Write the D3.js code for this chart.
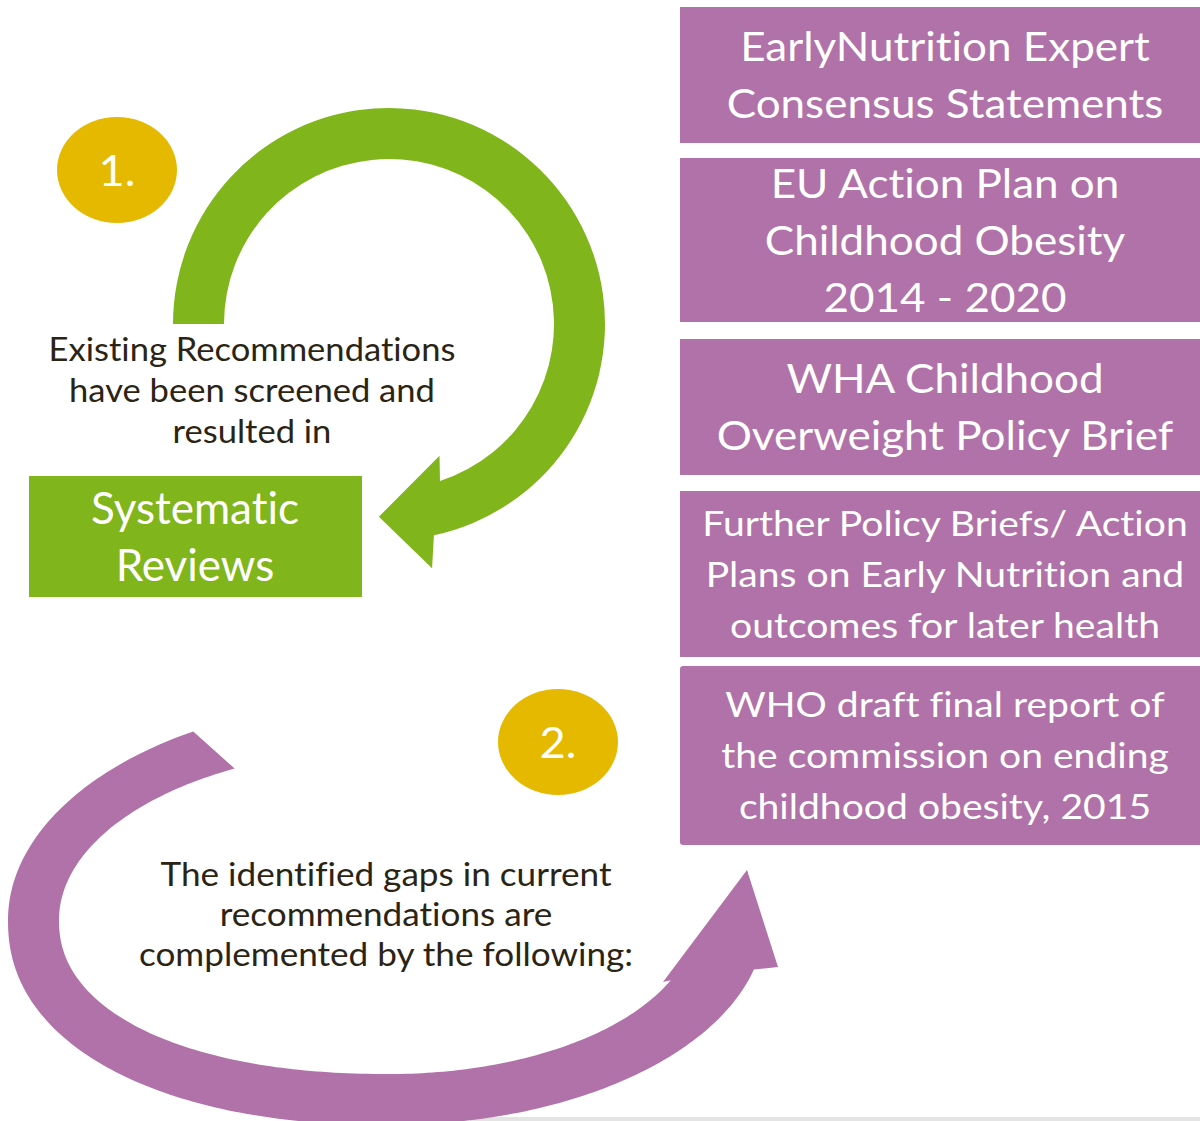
<!DOCTYPE html>
<html>
<head>
<meta charset="utf-8">
<script src="https://cdn.jsdelivr.net/npm/d3@7"></script>
<style>
  body { margin: 0; background: #fff; }
  svg { display: block; font-family: Lato, "Open Sans", sans-serif; font-variant-ligatures: none; }
</style>
</head>
<body>
<svg id="diagram" width="1200" height="1121"></svg>
<script>
const svg = d3.select("#diagram");

/*
/   Content
*/

const stepLabels = ["1.", "2."];
const introLines = ["Existing Recommendations", "have been screened and", "resulted in"];
const reviewLines = ["Systematic", "Reviews"];
const gapLines = ["The identified gaps in current", "recommendations are", "complemented by the following:"];

const sourceLines = [
    ["EarlyNutrition Expert", "Consensus Statements"],
    ["EU Action Plan on", "Childhood Obesity", "2014 - 2020"],
    ["WHA Childhood", "Overweight Policy Brief"],
    ["Further Policy Briefs/ Action", "Plans on Early Nutrition and", "outcomes for later health"],
    ["WHO draft final report of", "the commission on ending", "childhood obesity, 2015"]
];

/*
/   Layout
*/

const green = "#80b51b";
const purple = "#b072a8";
const gold = "#e4b900";
const ink = "#2b2414";

// vertical extent of each purple box
const boxTop = [7, 158, 339, 491, 666];
const boxBottom = [143, 322, 475, 657, 845];
const boxFont = [40, 40, 40, 34, 34];
const boxStretch = [1.1, 1.1, 1.1, 1.15, 1.15];
const boxLeading = [57, 57, 57, 51, 51];
const boxX0 = 680, boxX1 = 1210;

const deg = Math.PI / 180;

// draws centred multi-line text, optionally widened to match the original face
function textBlock(parent, lines, cx, firstBaseline, size, leading, fill, stretch = 1) {
    const g = parent.append("g");
    g.selectAll("text")
        .data(lines)
        .join("text")
        .attr("transform", (d, i) => `translate(${cx},${firstBaseline + i * leading}) scale(${stretch},1)`)
        .attr("text-anchor", "middle")
        .attr("font-size", size)
        .attr("fill", fill)
        .text(d => d);
    return g;
}

/*
/   Slide edge
*/

svg.append("rect")
    .attr("x", 470).attr("y", 1117)
    .attr("width", 730).attr("height", 4)
    .attr("fill", "#e4e4e4");

/*
/   Green circular arrow
*/

const gc = { x: 389, y: 324, rIn: 165, rOut: 216 };
const polar = (r, a) => [gc.x + r * Math.cos(a * deg), gc.y + r * Math.sin(a * deg)];

const gp = d3.path();
gp.moveTo(...polar(gc.rOut, 180));
gp.arc(gc.x, gc.y, gc.rOut, 180 * deg, (360 + 78) * deg, false);
gp.lineTo(...polar(248, 80));
gp.lineTo(...polar(193, 93));
gp.lineTo(...polar(141, 69));
gp.lineTo(...polar(gc.rIn, 72));
gp.arc(gc.x, gc.y, gc.rIn, (360 + 72) * deg, 180 * deg, true);
gp.closePath();

svg.append("path")
    .attr("d", gp.toString())
    .attr("fill", green);

/*
/   Purple oval arrow
*/

// each quadrant of the ring gets its own radius (the shape is egg like)
const outerRing = { cx: 390, cy: 920, rxL: 382, rxR: 375, ryT: 220, ryB: 205 };
const innerRing = { cx: 390, cy: 920, rxL: 331, rxR: 305, ryT: 171.5, ryB: 154 };

function ringPoint(ring, t) {
    const c = Math.cos(t * deg), s = Math.sin(t * deg);
    const n = (c < 0 && s > 0) ? 2.2 : 2;
    const x = ring.cx + (c < 0 ? ring.rxL : ring.rxR) * Math.sign(c) * Math.pow(Math.abs(c), 2 / n);
    const y = ring.cy + (s < 0 ? ring.ryT : ring.ryB) * Math.sign(s) * Math.pow(Math.abs(s), 2 / n);
    return [x, y];
}

const outerPts = d3.range(239, 13.5, -1).map(t => ringPoint(outerRing, t));
const innerPts = d3.range(23, 242.5, 1).map(t => ringPoint(innerRing, t));
const headPts = [[778, 967], [747, 870], [663, 982]];

svg.append("path")
    .attr("d", d3.line()([...outerPts, ...headPts, ...innerPts]) + "Z")
    .attr("fill", purple);

/*
/   Purple source boxes
*/

sourceLines.forEach((lines, i) => {
    const cy = (boxTop[i] + boxBottom[i]) / 2;
    svg.append("rect")
        .attr("x", boxX0)
        .attr("y", boxTop[i])
        .attr("width", boxX1 - boxX0)
        .attr("height", boxBottom[i] - boxTop[i])
        .attr("rx", i == 4 ? 3 : 0)
        .attr("fill", purple);

    const first = cy - (lines.length - 1) / 2 * boxLeading[i] + 0.37 * boxFont[i];
    textBlock(svg, lines, (boxX0 + boxX1) / 2, first, boxFont[i], boxLeading[i], "#fff", boxStretch[i]);
});

/*
/   Systematic reviews box
*/

svg.append("rect")
    .attr("x", 29).attr("y", 476)
    .attr("width", 333).attr("height", 121)
    .attr("fill", green);

textBlock(svg, reviewLines, 195, 524, 44, 57, "#fff");

/*
/   Step markers
*/

const stepPos = [[117, 170], [558, 742]];

svg.selectAll("ellipse.step")
    .data(stepLabels)
    .join("ellipse")
    .attr("class", "step")
    .attr("cx", (d, i) => stepPos[i][0])
    .attr("cy", (d, i) => stepPos[i][1])
    .attr("rx", 60)
    .attr("ry", 53)
    .attr("fill", gold);

stepLabels.forEach((label, i) => {
    textBlock(svg, [label], stepPos[i][0], stepPos[i][1] + 16, 43, 0, "#fff", 1.05);
});

/*
/   Explanatory text
*/

textBlock(svg, introLines, 252, 361, 32, 41, ink, 1.08);
textBlock(svg, gapLines, 386, 886, 33, 40, ink, 1.065);
</script>
</body>
</html>
